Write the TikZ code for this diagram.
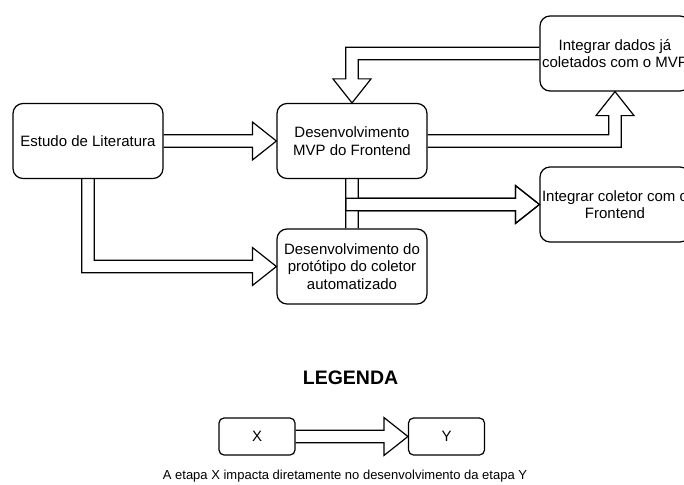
\documentclass[tikz,border=0pt]{standalone}
\usepackage{fontspec}
\setmainfont{Liberation Sans}
\usetikzlibrary{calc}

% half shaft width, half head width, head length
\newcommand{\shaftw}{6.25}
\newcommand{\headw}{19}
\newcommand{\headl}{24}

\begin{document}
\begin{tikzpicture}[x=1pt,y=-1pt,
  etapa/.style={draw, line width=1.2pt, rounded corners=10pt, minimum width=150pt,
    minimum height=75pt, inner sep=0pt, align=center, font=\fontsize{15}{17.5}\selectfont},
  mini/.style={draw, line width=1.2pt, rounded corners=5pt, minimum width=76pt,
    minimum height=37pt, inner sep=0pt, font=\fontsize{15}{17.5}\selectfont},
  seta/.style={draw, line width=1.2pt, line join=miter}]
\useasboundingbox (0,0) rectangle (684,484);
\clip (0,0) rectangle (684,484);

% etapas
\node[etapa] (lit) at (88,141) {Estudo de Literatura};
\node[etapa] (mvp) at (352,141) {Desenvolvimento\\MVP do Frontend};
\node[etapa] (proto) at (352,266.5) {Desenvolvimento do\\prot\'otipo do coletor\\automatizado};
\node[etapa] (dados) at (615,53.5) {Integrar dados j\'a\\coletados com o MVP};
\node[etapa] (coletor) at (615,204.5) {Integrar coletor com o\\Frontend};

% setas largas
\draw[seta] ($(lit.east)+(0,-\shaftw)$) -- ($(mvp.west)+(-\headl,-\shaftw)$) -- ++(0,\shaftw-\headw)
  -- (mvp.west) -- ($(mvp.west)+(-\headl,\headw)$) -- ++(0,\shaftw-\headw) -- ($(lit.east)+(0,\shaftw)$);
\draw[seta] ($(lit.south)+(-\shaftw,0)$) |- ($(proto.west)+(-\headl,\shaftw)$) -- ++(0,\headw-\shaftw)
  -- (proto.west) -- ($(proto.west)+(-\headl,-\headw)$) -- ++(0,\headw-\shaftw) -| ($(lit.south)+(\shaftw,0)$);
\draw[seta] ($(mvp.east)+(0,-\shaftw)$) -| ($(dados.south)+(-\shaftw,\headl)$) -- ++(\shaftw-\headw,0)
  -- (dados.south) -- ($(dados.south)+(\headw,\headl)$) -- ++(\shaftw-\headw,0) |- ($(mvp.east)+(0,\shaftw)$);
\draw[seta] ($(dados.west)+(0,-\shaftw)$) -| ($(mvp.north)+(-\shaftw,-\headl)$) -- ++(\shaftw-\headw,0)
  -- (mvp.north) -- ($(mvp.north)+(\headw,-\headl)$) -- ++(\shaftw-\headw,0) |- ($(dados.west)+(0,\shaftw)$);
\draw[seta] ($(mvp.south)+(-\shaftw,0)$) |- ($(coletor.west)+(-\headl,\shaftw)$) -- ++(0,\headw-\shaftw)
  -- (coletor.west) -- ($(coletor.west)+(-\headl,-\headw)$) -- ++(0,\headw-\shaftw) -| ($(mvp.south)+(\shaftw,0)$);
\draw[seta] ($(proto.north)+(-\shaftw,0)$) |- ($(coletor.west)+(-\headl,-\shaftw)$) -- ++(0,\shaftw-\headw)
  -- (coletor.west) -- ($(coletor.west)+(-\headl,\headw)$) -- ++(0,\shaftw-\headw) -| ($(proto.north)+(\shaftw,0)$);

% legenda
\node[font=\fontsize{19.5}{22}\selectfont\bfseries] (titulo) at (350.5,378) {LEGENDA};
\node[mini] (x) at (257,436.5) {X};
\node[mini] (y) at (446.5,436.5) {Y};
\draw[seta] ($(x.east)+(0,-\shaftw)$) -- ($(y.west)+(-\headl,-\shaftw)$) -- ++(0,\shaftw-\headw)
  -- (y.west) -- ($(y.west)+(-\headl,\headw)$) -- ++(0,\shaftw-\headw) -- ($(x.east)+(0,\shaftw)$);
\node[anchor=base, font=\fontsize{13}{15}\selectfont, inner sep=0pt] (texto) at (345,479)
  {A etapa X impacta diretamente no desenvolvimento da etapa Y};
\end{tikzpicture}
\end{document}
